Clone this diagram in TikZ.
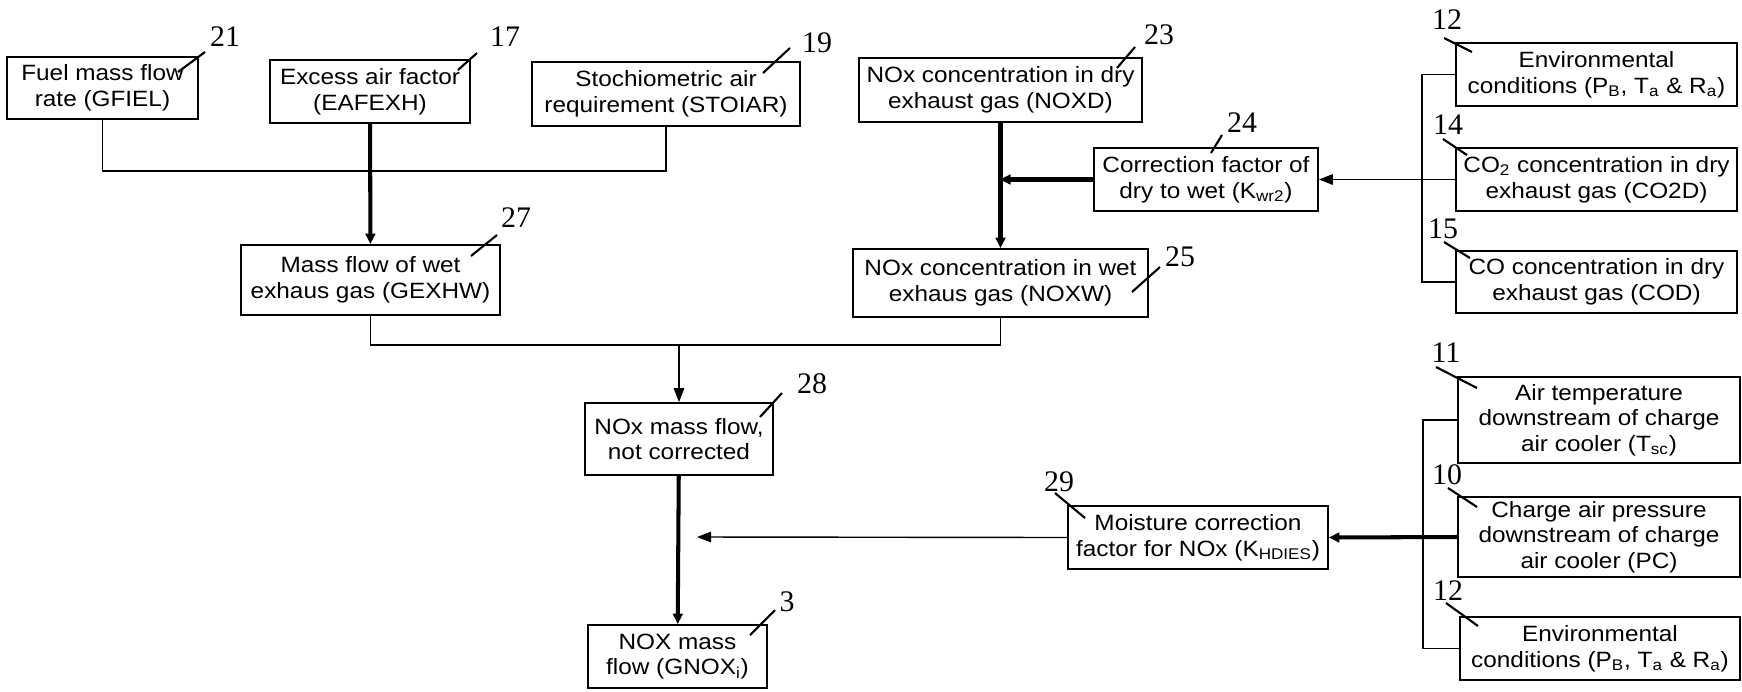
\documentclass[tikz,border=0pt]{standalone}
\usepackage{fontspec}
\setmainfont{Liberation Sans}[FakeStretch=1.1]
\newfontfamily\numfont{Liberation Serif}
\usepackage{tikz}
\usetikzlibrary{arrows.meta}

\begin{document}
\begin{tikzpicture}[x=0.02cm,y=-0.02cm,
  box/.style 2 args={draw,line width=1pt,inner sep=0pt,align=center,
              minimum width=#1cm,minimum height=#2cm,
              font=\fontsize{12.6}{14.6}\selectfont},
  num/.style={font=\numfont\fontsize{17}{17}\selectfont,inner sep=0pt},
  lead/.style={line width=1.2pt},
  wire/.style={line width=0.8pt},
  warr/.style={wire,-{Triangle[length=8pt,width=6pt]}},
  main/.style={line width=2.3pt,-{Triangle[length=6pt,width=5.5pt]}},
]
\useasboundingbox (0,0) rectangle (1742,691);

% input boxes, top row
\node[box={3.82}{1.24}] (fuel) at (102.5,88) {Fuel mass flow\\rate (GFIEL)};
\node[box={4.0}{1.26}] (eaf) at (370,91.5) {Excess air factor\\(EAFEXH)};
\node[box={5.36}{1.28}] (stoi) at (666,94) {Stochiometric air\\requirement (STOIAR)};
\node[box={5.66}{1.28}] (noxd) at (1000.5,90) {NOx concentration in dry\\exhaust gas (NOXD)};
\node[box={4.48}{1.26}] (kwr) at (1206,179.5) {Correction factor of\\dry to wet (K\textsubscript{wr2})};

% measured values, right column
\node[box={5.62}{1.26}] (envA) at (1596.5,74.5) {Environmental\\conditions (P\textsubscript{B}, T\textsubscript{a} \& R\textsubscript{a})};
\node[box={5.62}{1.26}] (co2d) at (1596.5,179.5) {CO\textsubscript{2} concentration in dry\\exhaust gas (CO2D)};
\node[box={5.62}{1.24}] (cod) at (1596.5,282) {CO concentration in dry\\exhaust gas (COD)};
\node[box={5.64}{1.72}] (tsc) at (1599,420) {Air temperature\\downstream of charge\\air cooler (T\textsubscript{sc})};
\node[box={5.64}{1.60}] (pc) at (1599,537) {Charge air pressure\\downstream of charge\\air cooler (PC)};
\node[box={5.60}{1.26}] (envB) at (1600,648.5) {Environmental\\conditions (P\textsubscript{B}, T\textsubscript{a} \& R\textsubscript{a})};

% intermediate results
\node[box={5.18}{1.40}] (gexhw) at (370.5,280) {Mass flow of wet\\exhaus gas (GEXHW)};
\node[box={5.90}{1.36}] (noxw) at (1000.5,283) {NOx concentration in wet\\exhaus gas (NOXW)};
\node[box={3.76}{1.44}] (uncorr) at (679,439) {NOx mass flow,\\not corrected};
\node[box={5.20}{1.26}] (khd) at (1198,537.5) {Moisture correction\\factor for NOx (K\textsubscript{HDIES})};
\node[box={3.58}{1.26}] (gnox) at (677.5,656.5) {NOX mass\\flow (GNOX\textsubscript{i})};

% reference numerals
\node[num] (n21) at (225,37) {21};
\node[num] (n17) at (505,37) {17};
\node[num] (n19) at (817,43) {19};
\node[num] (n23) at (1159,35) {23};
\node[num] (n24) at (1242,123) {24};
\node[num] (n12a) at (1447,20) {12};
\node[num] (n14) at (1448,125) {14};
\node[num] (n15) at (1443,229) {15};
\node[num] (n27) at (516,218) {27};
\node[num] (n25) at (1180,257) {25};
\node[num] (n28) at (812,384) {28};
\node[num] (n29) at (1059,482) {29};
\node[num] (n11) at (1446,353) {11};
\node[num] (n10) at (1447,475) {10};
\node[num] (n12b) at (1448,591) {12};
\node[num] (n3) at (787,602) {3};

\draw[lead] (178,72) -- (205,52);
\draw[lead] (458,70) -- (477,53);
\draw[lead] (763,73) -- (790,48);
\draw[lead] (1117,68) -- (1135,47);
\draw[lead] (1211,153) -- (1222,135);
\draw[lead] (1444,38) -- (1472,52);
\draw[lead] (1443,139) -- (1467,155);
\draw[lead] (1444,242) -- (1470,258);
\draw[lead] (471,256) -- (497,235);
\draw[lead] (1132,292) -- (1160,267);
\draw[lead] (760,417) -- (782,393);
\draw[lead] (1055,493) -- (1085,518);
\draw[lead] (1436,367) -- (1477,388);
\draw[lead] (1448,488) -- (1477,507);
\draw[lead] (1446,603) -- (1478,626);
\draw[lead] (750,635) -- (775,610);

% junction points
\coordinate (topbus) at (370,171);
\coordinate (midbus) at (679,345);
\coordinate (kwrin) at (1000,179.5);
\coordinate (khdin) at (697,537);

% connectors
\draw[wire] (fuel.south) |- (topbus) -| (stoi.south);
\draw[main] (eaf) -- (gexhw);
\draw[main] (noxd) -- (noxw);
\draw[main] (kwr.west) -- (kwrin);
\draw[wire] (envA.west) -- ++(-33,0) |- (cod.west);
\draw[warr] (co2d.west) -- (kwr.east);
\draw[wire] (gexhw.south) |- (midbus) -| (noxw.south);
\draw[warr] (midbus) -- (uncorr.north);
\draw[main] (uncorr) -- (gnox);
\draw[warr] (khd.west) -- (khdin);
\draw[wire] (tsc.west) -- ++(-34,0) |- (envB.west);
\draw[main] (pc.west) -- (khd.east);
\end{tikzpicture}
\end{document}
